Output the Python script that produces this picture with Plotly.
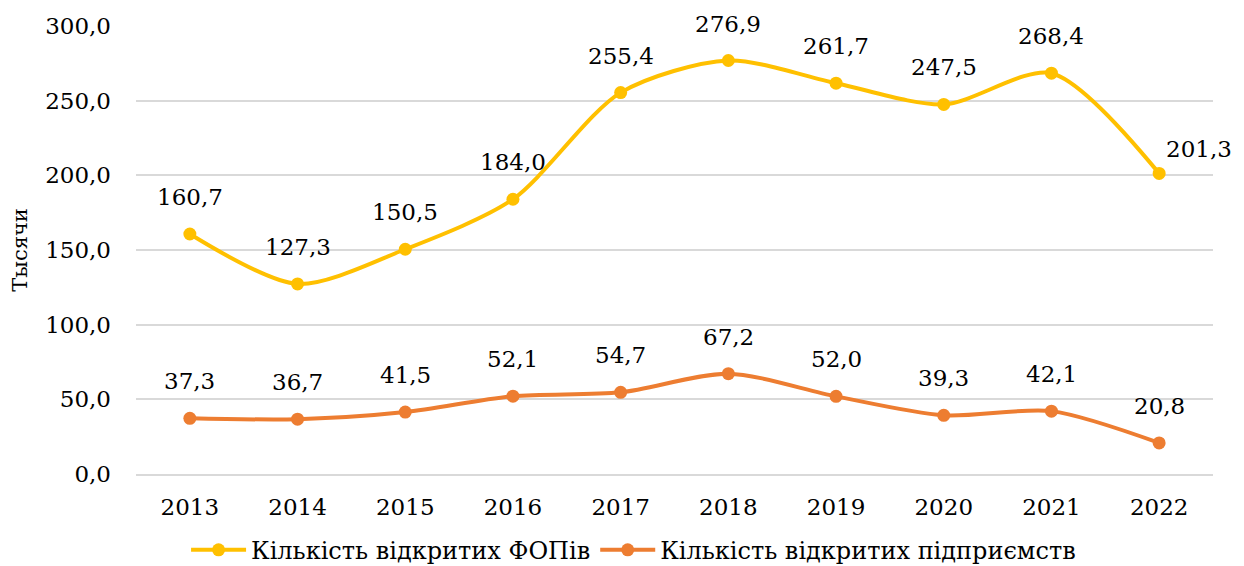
import plotly.graph_objects as go

years = [2013, 2014, 2015, 2016, 2017, 2018, 2019, 2020, 2021, 2022]
fop = [160.7, 127.3, 150.5, 184.0, 255.4, 276.9, 261.7, 247.5, 268.4, 201.3]
firms = [37.3, 36.7, 41.5, 52.1, 54.7, 67.2, 52.0, 39.3, 42.1, 20.8]
name_fop = "Кількість відкритих ФОПів"
name_firms = "Кількість відкритих підприємств"

def fmt(v):
    return f"{v:.1f}".replace(".", ",")

FONT = "DejaVu Serif"
FS = 23
fig = go.Figure()
fig.add_trace(go.Scatter(x=years, y=fop, name=name_fop, mode="lines+markers",
                         line=dict(color="#FFC000", width=4, shape="spline", smoothing=0.8),
                         marker=dict(size=13, color="#FFC000")))
fig.add_trace(go.Scatter(x=years, y=firms, name=name_firms, mode="lines+markers",
                         line=dict(color="#ED7D31", width=4, shape="spline", smoothing=0.8),
                         marker=dict(size=13, color="#ED7D31")))

for i, (x, v) in enumerate(zip(years, fop)):
    if i == len(years) - 1:
        fig.add_annotation(x=x, y=v, text=fmt(v), showarrow=False, xshift=40, yshift=24,
                           font=dict(family=FONT, size=FS, color="#000"))
    else:
        fig.add_annotation(x=x, y=v, text=fmt(v), showarrow=False, yshift=37,
                           font=dict(family=FONT, size=FS, color="#000"))
for x, v in zip(years, firms):
    fig.add_annotation(x=x, y=v, text=fmt(v), showarrow=False, yshift=37,
                       font=dict(family=FONT, size=FS, color="#000"))

fig.update_layout(
    width=1236, height=558,
    margin=dict(l=128, r=31, t=18, b=92, autoexpand=False),
    paper_bgcolor="white", plot_bgcolor="white",
    separators=", ",
    font=dict(family=FONT, size=FS, color="#000"),
    showlegend=True,
    legend=dict(orientation="h", x=0.462, xanchor="center", y=-0.12, yanchor="top",
                font=dict(family=FONT, size=24, color="#000"), itemwidth=55,
                tracegroupgap=0),
    xaxis=dict(type="linear", range=[2012.5, 2022.5], tickmode="array", tickvals=years,
               ticktext=[str(y) for y in years], showgrid=False, showline=True,
               linecolor="#D9D9D9", linewidth=1.5, zeroline=False,
               ticks="", ticklabelstandoff=12, tickfont=dict(family=FONT, size=FS)),
    yaxis=dict(range=[0, 300], dtick=50, tickformat=".1f", showgrid=True,
               gridcolor="#D9D9D9", gridwidth=1.5, zeroline=False, showline=False,
               ticklabelstandoff=24, tickfont=dict(family=FONT, size=FS),
               title=dict(text="Тысячи", font=dict(family=FONT, size=21), standoff=14)),
)

fig.write_html("out.html")
